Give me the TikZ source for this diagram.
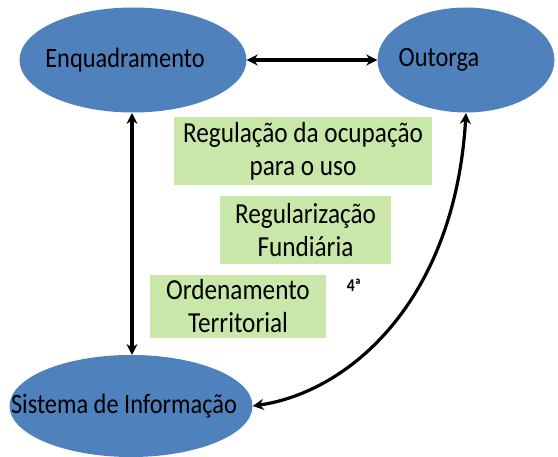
\documentclass[tikz,border=0pt]{standalone}
\usepackage{fontspec}
\setmainfont[FakeStretch=0.87]{Carlito}
\usetikzlibrary{shapes.geometric,arrows.meta}
\definecolor{ellblue}{HTML}{4F81BD}
\definecolor{boxgreen}{HTML}{C9E7A9}
\begin{document}
\begin{tikzpicture}[x=1pt,y=-1pt,
  ell/.style={ellipse,fill=ellblue,draw=none,inner sep=0pt},
  etext/.style={inner sep=0pt,font=\fontsize{28}{32}\selectfont},
  gbox/.style={fill=boxgreen,draw=none,inner sep=0pt,align=center,font=\fontsize{29}{33}\selectfont},
  conn/.style={line width=3.2pt,{Stealth[length=11pt,width=11pt]}-{Stealth[length=11pt,width=11pt]}}]
\useasboundingbox (0,0) rectangle (558,457);
\node[ell,minimum width=227pt,minimum height=105pt] (enq) at (133,60) {};
\node[ell,minimum width=177pt,minimum height=105pt] (out) at (466,60) {};
\node[ell,minimum width=243pt,minimum height=102pt] (sis) at (131,406) {};
\node[etext] (enqt) at (125,60) {Enquadramento};
\node[etext] (outt) at (439,60) {Outorga};
\node[etext] (sist) at (124,406) {Sistema de Informação};
\node[gbox,minimum width=258pt,minimum height=68pt] (reg) at (303,151) {Regulação da ocupação\\para o uso};
\node[gbox,minimum width=171pt,minimum height=68pt] (fun) at (305.5,230) {Regularização\\Fundiária};
\node[gbox,minimum width=176pt,minimum height=63pt] (ord) at (238,306.5) {Ordenamento\\Territorial};
\node[font=\bfseries\fontsize{18}{20}\selectfont] (q) at (354,285) {4ª};
\coordinate (outb) at (466,113);
\coordinate (enqb) at (132,113);
\coordinate (sisn) at (132,355);
\draw[conn] (enq.east) -- (out.west);
\draw[conn] (enqb) -- (sisn);
\draw[conn] (outb) .. controls (455,300) and (350,392) .. (sis.east);
\end{tikzpicture}
\end{document}
